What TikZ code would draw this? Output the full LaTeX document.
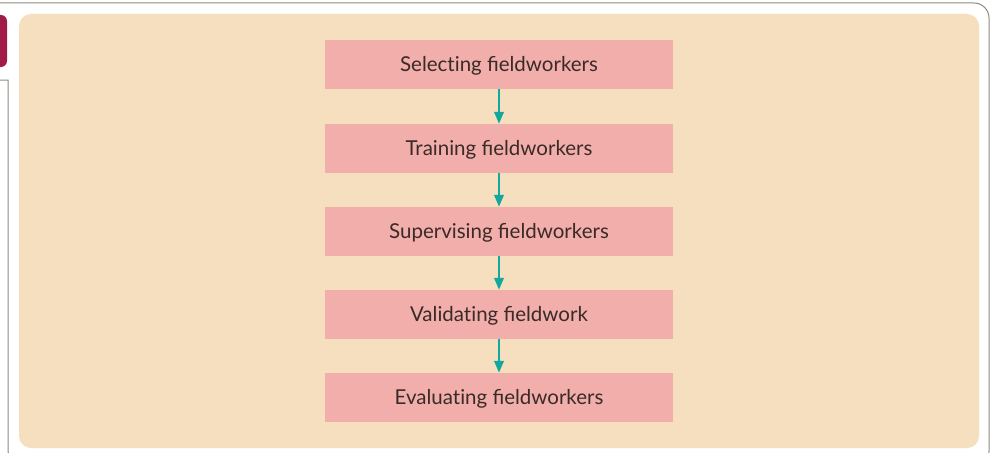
\documentclass[tikz,border=0pt]{standalone}
\usepackage{fontspec}
\setmainfont{Lato}
\usetikzlibrary{arrows.meta}
\definecolor{panel}{HTML}{F5DFBF}
\definecolor{boxpink}{HTML}{F1AEAA}
\definecolor{teal}{HTML}{13A89E}
\definecolor{frame}{HTML}{8E8B7E}
\definecolor{crimson}{HTML}{A01B45}
\definecolor{txt}{HTML}{3A2A28}
\newcommand{\nt}{t\kern0pt }
\tikzset{
  stepbox/.style={fill=boxpink, draw=none, minimum width=348pt, minimum height=49pt, inner sep=0pt, text height=15pt, text depth=1pt, font=\fontsize{20.5}{24}\selectfont, text=txt},
  flow/.style={draw=teal, line width=2.2pt, -{Triangle[length=12pt,width=9.5pt]}}
}
\begin{document}
\begin{tikzpicture}[x=1pt,y=-1pt]
\useasboundingbox (0,0) rectangle (992,452);
\fill[white] (0,0) rectangle (992,452);
% outer frame
\draw[frame, line width=1pt, rounded corners=15pt] (-20,3) -- (989,3) -- (989,466) -- (960,466);
\draw[frame, line width=1pt] (-1,80) -- (8,80) -- (8,440) [rounded corners=14pt] -- (8,464) -- (30,464);
% crimson tab
\fill[crimson, rounded corners=6pt] (-12,15) rectangle (7,67);
% panel
\fill[panel, rounded corners=12pt] (19,14) rectangle (979,448);
% boxes
\node[stepbox] (s1) at (499,64.5) {Selec\nt ing fieldworkers};
\node[stepbox] (s2) at (499,148.5) {Training fieldworkers};
\node[stepbox] (s3) at (499,231.5) {Supervising fieldworkers};
\node[stepbox] (s4) at (499,314.5) {Valida\nt ing fieldwork};
\node[stepbox] (s5) at (499,397.5) {Evalua\nt ing fieldworkers};
\draw[flow] (s1) -- (s2);
\draw[flow] (s2) -- (s3);
\draw[flow] (s3) -- (s4);
\draw[flow] (s4) -- (s5);
\end{tikzpicture}
\end{document}
